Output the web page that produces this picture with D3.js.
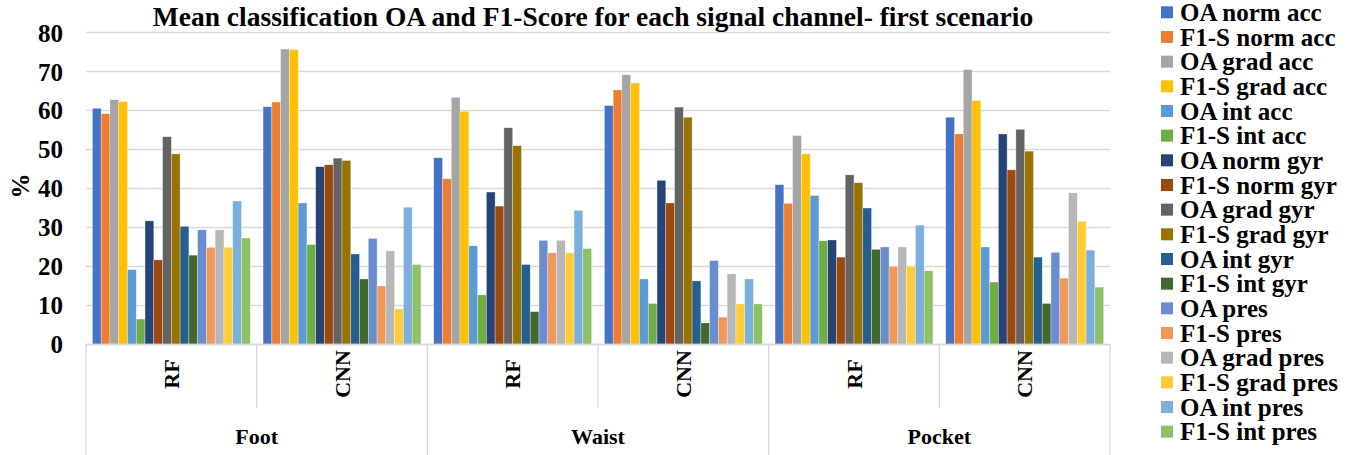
<!DOCTYPE html>
<html><head><meta charset="utf-8">
<script src="https://cdn.jsdelivr.net/npm/d3@7"></script>
<style>body{margin:0;background:#fff}svg{display:block}</style>
</head><body><svg id="c" width="1354" height="455" style="font-family:'Liberation Serif','Times New Roman',serif;font-weight:bold"></svg>
<script>
const seriesNames = ["OA norm acc","F1-S norm acc","OA grad acc","F1-S grad acc","OA int acc","F1-S int acc","OA norm gyr","F1-S norm gyr","OA grad gyr","F1-S grad gyr","OA int gyr","F1-S int gyr","OA pres","F1-S pres","OA grad pres","F1-S grad pres","OA int pres","F1-S int pres"];
const seriesColors = ["#4472C4","#ED7D31","#A5A5A5","#FFC000","#5B9BD5","#70AD47","#264478","#9E480E","#636363","#997300","#255E91","#43682B","#698ED0","#F1975A","#B7B7B7","#FFCD33","#7CAFDD","#8CC168"];
const groups = ["Foot","Waist","Pocket"];
const models = ["RF","CNN"];
// values per category (18 series each)
const footRF    = [60.5,59.1,62.7,62.2,19.1,6.4,31.6,21.6,53.2,48.8,30.2,22.8,29.3,24.8,29.3,24.8,36.7,27.2];
const footCNN   = [60.9,62.1,75.7,75.5,36.2,25.5,45.5,46.0,47.7,47.1,23.1,16.7,27.1,14.9,23.9,9.0,35.1,20.4];
const waistRF   = [47.8,42.4,63.3,59.7,25.2,12.6,39.0,35.4,55.5,50.9,20.4,8.3,26.6,23.4,26.6,23.4,34.3,24.5];
const waistCNN  = [61.2,65.2,69.1,67.0,16.7,10.4,42.0,36.2,60.8,58.2,16.2,5.4,21.4,6.9,18.0,10.3,16.7,10.3];
const pocketRF  = [40.9,36.1,53.5,48.8,38.1,26.5,26.7,22.3,43.4,41.4,34.9,24.3,24.9,19.9,24.9,19.9,30.5,18.8];
const pocketCNN = [58.2,53.9,70.4,62.5,24.9,15.9,53.9,44.7,55.1,49.5,22.3,10.4,23.5,16.9,38.8,31.5,24.1,14.6];
const yTicks = [0,10,20,30,40,50,60,70,80];
const title = "Mean classification OA and F1-Score for each signal channel- first scenario";

const FONT = "'Liberation Serif','Times New Roman',serif";
const categoryValues = [footRF, footCNN, waistRF, waistCNN, pocketRF, pocketCNN];
const cats = [];
groups.forEach((g,gi)=>models.forEach((m,mi)=>cats.push({id:g+"-"+m,group:g,model:m,values:categoryValues[gi*2+mi]})));

const svg = d3.select("#c");
const L=86, R=1110, T=32.3, B=344;
const y = d3.scaleLinear().domain([0,80]).range([B,T]);
const x0 = d3.scaleBand().domain(cats.map(c=>c.id)).range([L,R]).paddingInner(0.075).paddingOuter(0.0375);
const x1 = d3.scaleBand().domain(d3.range(seriesNames.length)).range([0,x0.bandwidth()]);
const xg = d3.scaleBand().domain(groups).range([L,R]);

function txt(sel,size){ return sel.style("font-family",FONT).style("font-weight","bold").style("font-size",size+"px").attr("fill","#000"); }

// gridlines
svg.append("g").selectAll("line").data(yTicks).join("line")
  .attr("x1",L).attr("x2",R).attr("y1",d=>Math.round(y(d))+0.5).attr("y2",d=>Math.round(y(d))+0.5)
  .attr("stroke","#d9d9d9").attr("stroke-width",1.3);

// y tick labels
const ya = svg.append("g").attr("transform",`translate(${L},0)`)
  .call(d3.axisLeft(y).tickValues(yTicks).tickSize(0).tickPadding(23));
ya.select(".domain").remove();
ya.attr("font-family",null).attr("font-size",null);
txt(ya.selectAll("text"),25).attr("dy","0.35em");

// bars
svg.append("g").selectAll("g").data(cats).join("g")
  .attr("transform",d=>`translate(${x0(d.id)},0)`)
  .selectAll("rect").data(d=>d.values.map((v,i)=>({v,i}))).join("rect")
  .attr("x",d=>x1(d.i)).attr("width",x1.bandwidth())
  .attr("y",d=>y(d.v)).attr("height",d=>y(0)-y(d.v))
  .attr("fill",d=>seriesColors[d.i])
  .attr("stroke","#fff").attr("stroke-opacity",0.5).attr("stroke-width",0.6);

// category axis
const ax = svg.append("g").attr("stroke","#d9d9d9").attr("stroke-width",1.3);
ax.append("line").attr("x1",L).attr("x2",R).attr("y1",B+0.5).attr("y2",B+0.5);
const step = (R-L)/cats.length;
cats.forEach((c,i)=>{
  const xx = L+ step*i;
  ax.append("line").attr("x1",xx).attr("x2",xx).attr("y1",B).attr("y2", i%2===0?455:408);
});
ax.append("line").attr("x1",R).attr("x2",R).attr("y1",B).attr("y2",455);

txt(svg.append("g").selectAll("text").data(cats).join("text")
  .attr("transform",d=>`translate(${x0(d.id)+x0.bandwidth()/2},374) rotate(-90)`)
  .attr("text-anchor","middle").attr("dy","0.35em"),22).text(d=>d.model);

txt(svg.append("g").selectAll("text").data(groups).join("text")
  .attr("x",d=>xg(d)+xg.bandwidth()/2).attr("y",444)
  .attr("text-anchor","middle"),22).text(d=>d);

// y axis title
txt(svg.append("text").attr("transform","translate(20,186) rotate(-90)")
  .attr("text-anchor","middle").attr("dy","0.35em"),25).text("%");

// title
txt(svg.append("text").attr("x",593).attr("y",26).attr("text-anchor","middle"),27.5).text(title);

// legend
const lg = svg.append("g").selectAll("g").data(seriesNames).join("g")
  .attr("transform",(d,i)=>`translate(1161,${12.3+i*24.67})`);
lg.append("rect").attr("x",0).attr("y",-6).attr("width",12).attr("height",12).attr("fill",(d,i)=>seriesColors[i]);
txt(lg.append("text").attr("x",19).attr("dy","0.35em"),25).text(d=>d);
</script></body></html>
